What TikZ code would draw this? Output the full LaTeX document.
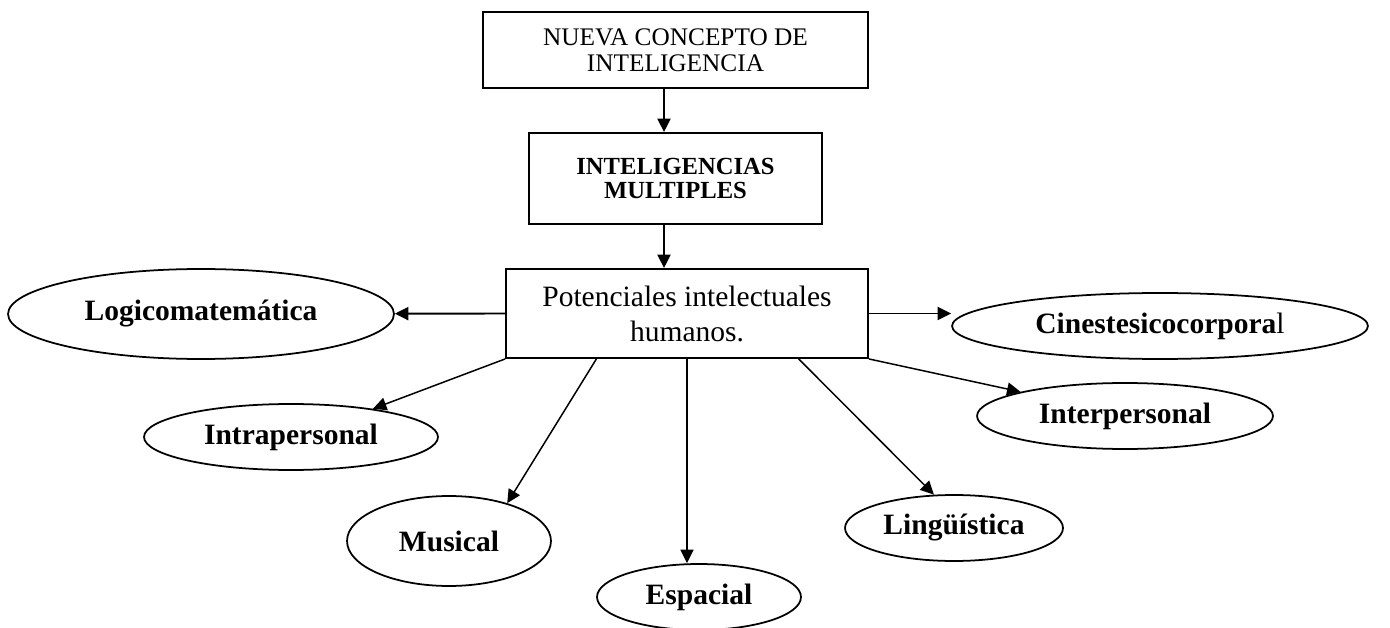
\documentclass[tikz,border=0pt]{standalone}
\usepackage{fontspec}
\setmainfont{Liberation Serif}
\usetikzlibrary{shapes.geometric,arrows.meta,calc}

\begin{document}
\begin{tikzpicture}[x=0.02cm, y=-0.02cm,
	caja/.style={draw, line width=1.1pt, align=center, inner sep=0pt},
	burbuja/.style={draw, ellipse, line width=1pt, inner sep=0pt, font=\fontsize{16.8}{20}\selectfont\bfseries},
	flecha/.style={line width=1.1pt, -{Triangle[length=0.27cm,width=0.26cm]}},
	rama/.style={line width=0.85pt, -{Triangle[length=0.27cm,width=0.26cm]}}]
	%%%%% START %%%%%
	
	\useasboundingbox (0,0) rectangle (1390,628);
	
	\node[caja, minimum width=7.7cm, minimum height=1.52cm, font=\fontsize{14.4}{14.8}\selectfont] (nuevo) at (675.5,50) {NUEVA CONCEPTO DE\\INTELIGENCIA};
	\node[caja, minimum width=5.86cm, minimum height=1.82cm, font=\fontsize{14}{14.2}\selectfont\bfseries] (multi) at (675.5,178.5) {INTELIGENCIAS\\MULTIPLES};
	\node[caja, minimum width=7.24cm, minimum height=1.78cm, font=\fontsize{16.8}{19.9}\selectfont] (pot) at (687,313.5) {Potenciales intelectuales\\humanos.};
	
	\node[burbuja, minimum width=7.72cm, minimum height=1.8cm] (logico) at (201,314) {Logicomatemática};
	\node[burbuja, minimum width=5.88cm, minimum height=1.32cm] (intra) at (291,437) {Intrapersonal};
	\node[burbuja, minimum width=4.08cm, minimum height=1.8cm] (musical) at (449,541) {Musical};
	\node[burbuja, minimum width=4.08cm, minimum height=1.32cm] (espacial) at (699,597) {Espacial};
	\node[burbuja, minimum width=4.36cm, minimum height=1.32cm] (lingu) at (954,528) {Lingüística};
	\node[burbuja, minimum width=5.92cm, minimum height=1.32cm] (inter) at (1125,416) {Interpersonal};
	\node[burbuja, minimum width=8.32cm, minimum height=1.32cm] (cines) at (1160,326) {Cinestesicocorpora\textmd{l}};
	
	% flechas de arriba
	\coordinate (eje) at (664,0);
	\draw[flecha] (eje |- nuevo.south) -- (eje |- multi.north);
	\draw[flecha] (eje |- multi.south) -- (eje |- pot.north);
	
	% a los lados
	\draw[flecha] (pot.west) -- (logico);
	\draw[flecha] (pot.east) -- (pot.east -| cines.west);
	
	% hacia abajo
	\draw[rama] (pot.south west) -- (intra.19);
	\draw[rama] ($(pot.south west)!0.251!(pot.south east)$) -- (musical.33);
	\draw[rama] (pot.south) -- (pot.south |- espacial.north);
	\draw[rama] ($(pot.south west)!0.807!(pot.south east)$) -- (lingu.121);
	\draw[rama] (pot.south east) -- (inter.167);
	
	%%%%% END %%%%%
\end{tikzpicture}
\end{document}
